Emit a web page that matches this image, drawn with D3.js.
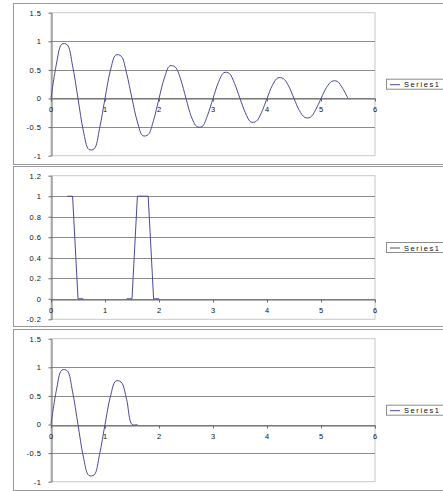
<!DOCTYPE html>
<html lang="en">
<head>
    <meta charset="UTF-8">
    <title>Series1</title>
    <script src="https://d3js.org/d3.v7.min.js" charset="utf-8"></script>
    <style>
        body {
            margin: 0;
            padding: 0;
            background: #fff;
        }
        text {
            font-family: "Liberation Sans", Arial, sans-serif;
            font-size: 7.5px;
            fill: #111;
        }
        .grid line {
            stroke: #8c8c8c;
            stroke-width: 1;
        }
        .axis path, .axis line {
            stroke: #6a6a6a;
            stroke-width: 1;
        }
        .series {
            fill: none;
            stroke: #4a4a98;
            stroke-width: 1;
            stroke-linejoin: round;
        }
    </style>
</head>
<body>
<svg width="443" height="491"></svg>
<script>
    // x values shared by all three charts
    var xValues = [0, 0.1, 0.2, 0.3, 0.4, 0.5, 0.6, 0.7, 0.8, 0.9,
        1, 1.1, 1.2, 1.3, 1.4, 1.5, 1.6, 1.7, 1.8, 1.9,
        2, 2.1, 2.2, 2.3, 2.4, 2.5, 2.6, 2.7, 2.8, 2.9,
        3, 3.1, 3.2, 3.3, 3.4, 3.5, 3.6, 3.7, 3.8, 3.9,
        4, 4.1, 4.2, 4.3, 4.4, 4.5, 4.6, 4.7, 4.8, 4.9,
        5, 5.1, 5.2, 5.3, 5.4, 5.5];

    // chart 1: damped wave
    var wave = [0, 0.60, 0.95, 0.94, 0.57, 0, -0.57, -0.89, -0.88, -0.52,
        0, 0.49, 0.76, 0.74, 0.44, 0, -0.41, -0.65, -0.63, -0.38,
        0, 0.36, 0.57, 0.55, 0.34, 0, -0.32, -0.49, -0.49, -0.29,
        0, 0.28, 0.45, 0.44, 0.26, 0, -0.25, -0.41, -0.40, -0.24,
        0, 0.23, 0.36, 0.35, 0.22, 0, -0.21, -0.33, -0.33, -0.20,
        0, 0.19, 0.30, 0.30, 0.18, 0];

    // chart 2: pulses (null = empty cell)
    var pulses = [null, null, null, 1, 1, 0, 0, null, null, null,
        null, null, null, null, 0, 0, 1, 1, 1, 0,
        0];

    // chart 3: cut wave
    var cutWave = [0, 0.60, 0.95, 0.94, 0.57, 0, -0.57, -0.89, -0.88, -0.52,
        0, 0.49, 0.76, 0.74, 0.44, 0, 0];

    var xTicks = [0, 1, 2, 3, 4, 5, 6];
    var yTicksWave = [-1, -0.5, 0, 0.5, 1, 1.5];
    var yTicksPulse = [-0.2, 0, 0.2, 0.4, 0.6, 0.8, 1, 1.2];
    var legendLabel = 'Series1';

    var svg = d3.select('svg');

    var charts = [
        {values: wave, yTicks: yTicksWave, top: 3, bottom: 164, plotTop: 12.7, plotBottom: 155.7, curve: d3.curveCatmullRom},
        {values: pulses, yTicks: yTicksPulse, top: 166, bottom: 326, plotTop: 175.7, plotBottom: 319.3, curve: d3.curveLinear},
        {values: cutWave, yTicks: yTicksWave, top: 329, bottom: 490, plotTop: 338.7, plotBottom: 481.7, curve: d3.curveCatmullRom}
    ];

    var plotLeft = 51, plotRight = 375;

    charts.forEach(function (c) {
        var g = svg.append('g');

        // outer chart border
        g.append('rect')
            .attr('x', 13.5).attr('y', c.top + 0.5)
            .attr('width', 460).attr('height', c.bottom - c.top)
            .attr('fill', '#fff')
            .attr('stroke', '#9a9a9a');

        var x = d3.scaleLinear().domain([0, 6]).range([plotLeft, plotRight]);
        var y = d3.scaleLinear().domain(d3.extent(c.yTicks)).range([c.plotBottom, c.plotTop]);

        // plot area border
        g.append('rect')
            .attr('x', plotLeft).attr('y', c.plotTop)
            .attr('width', plotRight - plotLeft).attr('height', c.plotBottom - c.plotTop)
            .attr('fill', 'none')
            .attr('stroke', '#c8c8c8');

        // gridlines
        g.append('g').attr('class', 'grid')
            .selectAll('line')
            .data(c.yTicks.slice(1, -1))
            .enter().append('line')
            .attr('x1', plotLeft).attr('x2', plotRight)
            .attr('y1', function (d) { return Math.round(y(d)) + 0.5; })
            .attr('y2', function (d) { return Math.round(y(d)) + 0.5; });

        // y axis
        g.append('g').attr('class', 'axis')
            .attr('transform', 'translate(' + (plotLeft + 0.5) + ',0)')
            .call(d3.axisLeft(y)
                .tickValues(c.yTicks)
                .tickSize(3)
                .tickSizeOuter(0)
                .tickPadding(7)
                .tickFormat(function (d) { return String(d); }))
            .selectAll('text').attr('letter-spacing', 0.5);

        // x axis at zero
        var xAxis = g.append('g').attr('class', 'axis')
            .attr('transform', 'translate(0,' + (Math.round(y(0)) + 0.5) + ')')
            .call(d3.axisBottom(x)
                .tickValues(xTicks)
                .tickSize(3)
                .tickSizeOuter(0)
                .tickPadding(5)
                .tickFormat(function (d) { return String(d); }));
        xAxis.selectAll('text').attr('dx', -0.5);

        // series line
        var pts = c.values.map(function (v, i) { return [xValues[i], v]; });
        var line = d3.line()
            .defined(function (d) { return d[1] !== null; })
            .x(function (d) { return x(d[0]); })
            .y(function (d) { return y(d[1]); })
            .curve(c.curve);
        g.append('path')
            .attr('class', 'series')
            .attr('d', line(pts));

        // legend
        var cy = (c.plotTop + c.plotBottom) / 2;
        var leg = g.append('g').attr('transform', 'translate(386,' + cy + ')');
        leg.append('rect')
            .attr('x', 0.5).attr('y', -5)
            .attr('width', 80).attr('height', 10)
            .attr('fill', '#fff')
            .attr('stroke', '#8c8c8c');
        leg.append('line')
            .attr('x1', 4).attr('x2', 14)
            .attr('y1', 0.5).attr('y2', 0.5)
            .attr('stroke', '#4a4a98');
        leg.append('text')
            .attr('x', 18).attr('y', 3)
            .attr('font-size', '8.5px')
            .attr('letter-spacing', 1.6)
            .text(legendLabel);
    });
</script>
</body>
</html>
